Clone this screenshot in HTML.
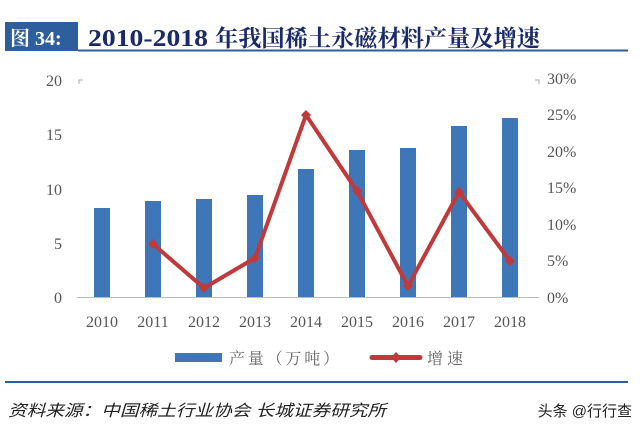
<!DOCTYPE html>
<html><head><meta charset="utf-8"><style>
body{margin:0;width:640px;height:436px;background:#fff;overflow:hidden;font-family:"Liberation Serif","Noto Serif CJK SC",serif;}
</style></head><body>
<svg width="640" height="436" xmlns="http://www.w3.org/2000/svg">
<rect x="5" y="22" width="73" height="29" fill="#2e5e9c"/>
<text x="10" y="45" font-size="20" font-weight="bold" fill="#fff" font-family="Liberation Serif,Noto Serif CJK SC,serif">图 34:</text>
<text x="88" y="46" font-size="24" font-weight="bold" fill="#1a2a6a" font-family="Liberation Serif,serif" textLength="120" lengthAdjust="spacingAndGlyphs">2010-2018</text>
<text x="215" y="46" font-size="23" font-weight="bold" fill="#1a2a6a" font-family="Noto Serif CJK SC,serif" textLength="325" lengthAdjust="spacingAndGlyphs">年我国稀土永磁材料产量及增速</text>
<line x1="78" y1="50.5" x2="628" y2="50.5" stroke="#2e5e9c" stroke-width="2"/>
<g font-size="16" fill="#555" font-family="Liberation Serif,serif">
<text x="62" y="86" text-anchor="end">20</text>
<text x="62" y="140" text-anchor="end">15</text>
<text x="62" y="195" text-anchor="end">10</text>
<text x="62" y="249" text-anchor="end">5</text>
<text x="62" y="303" text-anchor="end">0</text>
<text x="547" y="84">30%</text>
<text x="547" y="120">25%</text>
<text x="547" y="157">20%</text>
<text x="547" y="193">15%</text>
<text x="547" y="230">10%</text>
<text x="547" y="266">5%</text>
<text x="547" y="303">0%</text>
<text x="102" y="327" text-anchor="middle">2010</text>
<text x="153" y="327" text-anchor="middle">2011</text>
<text x="204" y="327" text-anchor="middle">2012</text>
<text x="255" y="327" text-anchor="middle">2013</text>
<text x="306" y="327" text-anchor="middle">2014</text>
<text x="357" y="327" text-anchor="middle">2015</text>
<text x="408" y="327" text-anchor="middle">2016</text>
<text x="459" y="327" text-anchor="middle">2017</text>
<text x="510" y="327" text-anchor="middle">2018</text>
</g>
<path d="M79 84V80h4M535 80h4v4" stroke="#aaa" fill="none"/>
<line x1="77" y1="297.5" x2="539" y2="297.5" stroke="#bbb"/>
<g fill="#3f76b8">
<rect x="94" y="208" width="16" height="89"/>
<rect x="145" y="201" width="16" height="96"/>
<rect x="196" y="199" width="16" height="98"/>
<rect x="247" y="195" width="16" height="102"/>
<rect x="298" y="169" width="16" height="128"/>
<rect x="349" y="150" width="16" height="147"/>
<rect x="400" y="148" width="16" height="149"/>
<rect x="451" y="126" width="16" height="171"/>
<rect x="502" y="118" width="16" height="179"/>
</g>
<polyline points="153,244 204,288 255,258 306,115 357,191 408,286 459,192 510,261" fill="none" stroke="#c0393b" stroke-width="4"/>
<g fill="#c0393b">
<path d="M153 239l5 5-5 5-5-5z"/><path d="M204 283l5 5-5 5-5-5z"/><path d="M255 253l5 5-5 5-5-5z"/><path d="M306 110l5 5-5 5-5-5z"/><path d="M357 186l5 5-5 5-5-5z"/><path d="M408 281l5 5-5 5-5-5z"/><path d="M459 187l5 5-5 5-5-5z"/><path d="M510 256l5 5-5 5-5-5z"/>
</g>
<rect x="175" y="353" width="47" height="9" fill="#3f76b8"/>
<text x="229" y="364" font-size="16" fill="#666" font-family="Noto Serif CJK SC,serif" textLength="110" lengthAdjust="spacing">产量（万吨）</text>
<line x1="372" y1="357.5" x2="420" y2="357.5" stroke="#c0393b" stroke-width="5" stroke-linecap="round"/>
<path d="M396 352l5 5.5-5 5.5-5-5.5z" fill="#c0393b"/>
<text x="427" y="364" font-size="16" fill="#666" font-family="Noto Serif CJK SC,serif" textLength="36" lengthAdjust="spacing">增速</text>
<line x1="5" y1="382" x2="628" y2="382" stroke="#2e5e9c" stroke-width="2"/>
<text x="8" y="416" font-size="16" font-style="italic" fill="#222" font-family="Liberation Sans,Noto Sans CJK SC,sans-serif" textLength="378" lengthAdjust="spacingAndGlyphs">资料来源：中国稀土行业协会 长城证券研究所</text>
<text x="632" y="416" font-size="15" text-anchor="end" fill="#222" font-family="Liberation Sans,Noto Sans CJK SC,sans-serif">头条 @行行查</text>
</svg>
</body></html>
